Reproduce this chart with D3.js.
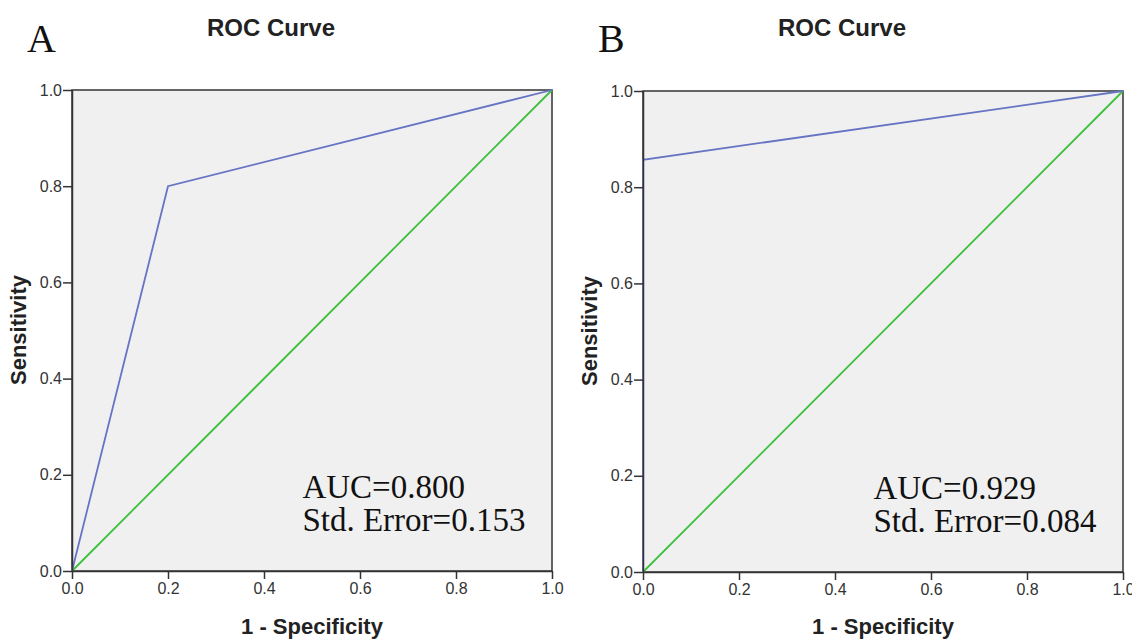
<!DOCTYPE html>
<html>
<head>
<meta charset="utf-8">
<script src="https://cdn.jsdelivr.net/npm/d3@7"></script>
<style>
body { margin: 0; background: #fff; }
.tick text { font-family: Arial, "Liberation Sans", sans-serif; font-size: 16px; fill: #333; }
</style>
</head>
<body>
<svg id="c" width="1132" height="641"></svg>
<script>
// panel letters and texts
let panelLetters = ["A", "B"];
let aucLabels = ["AUC=0.800", "AUC=0.929"];
let seLabels = ["Std. Error=0.153", "Std. Error=0.084"];

// ROC points (1 - specificity, sensitivity)
let fprA = [0, 0.2, 1];
let tprA = [0, 0.8, 1];
let fprB = [0, 0, 1];
let tprB = [0, 0.857, 1];

// reference diagonal
let refFpr = [0, 1];
let refTpr = [0, 1];

let tickVals = [0, 0.2, 0.4, 0.6, 0.8, 1.0];

function drawPanel(svg, left, top, letter, fpr, tpr, auc, se)
{
	let w = 480, h = 481;
	let x = d3.scaleLinear().domain([0, 1]).range([left, left + w]);
	let y = d3.scaleLinear().domain([0, 1]).range([top + h, top]);

	svg.append("rect").attr("x", left).attr("y", top).attr("width", w).attr("height", h)
		.attr("fill", "#f0f0f0").attr("stroke", "#333").attr("stroke-width", 1.5);

	let line = d3.line().x(function(d) { return x(d[0]); }).y(function(d) { return y(d[1]); });

	svg.append("path").datum(d3.zip(refFpr, refTpr)).attr("d", line)
		.attr("fill", "none").attr("stroke", "#3cbf3c").attr("stroke-width", 1.8);

	svg.append("path").datum(d3.zip(fpr, tpr)).attr("d", line)
		.attr("fill", "none").attr("stroke", "#6674c4").attr("stroke-width", 1.8);

	let xAxis = svg.append("g").attr("transform", "translate(0," + (top + h) + ")")
		.call(d3.axisBottom(x).tickValues(tickVals).tickFormat(d3.format(".1f")).tickSize(8).tickSizeOuter(0));
	xAxis.select(".domain").attr("stroke", "#333").attr("stroke-width", 1.5);
	xAxis.selectAll(".tick line").attr("stroke", "#333").attr("stroke-width", 1.5);
	xAxis.selectAll(".tick text").attr("y", 12).attr("dy", "0.71em");

	let yAxis = svg.append("g").attr("transform", "translate(" + left + ",0)")
		.call(d3.axisLeft(y).tickValues(tickVals).tickFormat(d3.format(".1f")).tickSize(9).tickSizeOuter(0));
	yAxis.select(".domain").attr("stroke", "#333").attr("stroke-width", 1.5);
	yAxis.selectAll(".tick line").attr("stroke", "#333").attr("stroke-width", 1.5);
	yAxis.selectAll(".tick text").attr("x", -10);

	svg.append("text").attr("x", left + 199).attr("y", 36).attr("text-anchor", "middle")
		.style("font-family", "Arial, 'Liberation Sans', sans-serif").style("font-size", "24px").style("font-weight", "bold")
		.attr("fill", "#222").text("ROC Curve");

	svg.append("text").attr("x", left - 45).attr("y", 52)
		.style("font-family", "'Liberation Serif', 'Times New Roman', serif").style("font-size", "40px")
		.attr("fill", "#111").text(letter);

	svg.append("text").attr("x", left + w / 2).attr("y", 634).attr("text-anchor", "middle")
		.style("font-family", "Arial, 'Liberation Sans', sans-serif").style("font-size", "22px").style("font-weight", "bold")
		.attr("fill", "#222").text("1 - Specificity");

	svg.append("text").attr("transform", "translate(" + (left - 46) + "," + (top + 240) + ") rotate(-90)")
		.attr("text-anchor", "middle")
		.style("font-family", "Arial, 'Liberation Sans', sans-serif").style("font-size", "22px").style("font-weight", "bold")
		.attr("fill", "#222").text("Sensitivity");

	svg.append("text").attr("x", x(0.48)).attr("y", top + 408)
		.style("font-family", "'Liberation Serif', 'Times New Roman', serif").style("font-size", "33px")
		.attr("fill", "#111").text(auc);
	svg.append("text").attr("x", x(0.48)).attr("y", top + 441)
		.style("font-family", "'Liberation Serif', 'Times New Roman', serif").style("font-size", "33px")
		.attr("fill", "#111").text(se);
}

let svg = d3.select("#c");
drawPanel(svg, 72, 90, panelLetters[0], fprA, tprA, aucLabels[0], seLabels[0]);
drawPanel(svg, 643, 91, panelLetters[1], fprB, tprB, aucLabels[1], seLabels[1]);
</script>
</body>
</html>
